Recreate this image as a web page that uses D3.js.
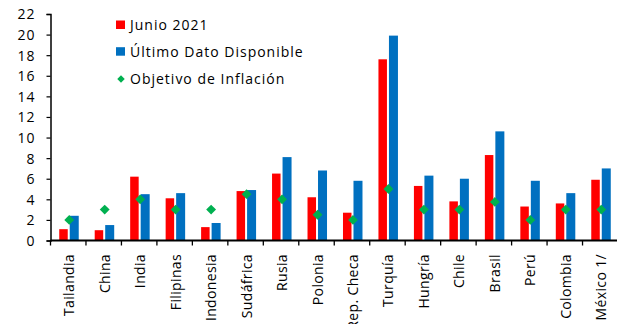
<!DOCTYPE html>
<html>
<head>
<meta charset="utf-8">
<script src="https://cdn.jsdelivr.net/npm/d3@7"></script>
<style>
  html, body { margin: 0; padding: 0; background: #fff; }
  svg { display: block; }
  text { font-family: "Open Sans", "Liberation Sans", sans-serif; fill: #000; }
</style>
</head>
<body>
<svg id="chart" width="617" height="324"></svg>
<script>
// Inflación por país: junio 2021, último dato disponible y objetivo del banco central
const paises = ["Tailandia", "China", "India", "Filipinas", "Indonesia", "Sudáfrica", "Rusia",
  "Polonia", "Rep. Checa", "Turquía", "Hungría", "Chile", "Brasil", "Perú", "Colombia", "México 1/"];
const junio2021 = [1.1, 1.0, 6.2, 4.1, 1.3, 4.8, 6.5, 4.2, 2.7, 17.6, 5.3, 3.8, 8.3, 3.3, 3.6, 5.9];
const ultimoDato = [2.4, 1.5, 4.5, 4.6, 1.7, 4.9, 8.1, 6.8, 5.8, 19.9, 6.3, 6.0, 10.6, 5.8, 4.6, 7.0];
const objetivo = [2.0, 3.0, 4.0, 3.0, 3.0, 4.5, 4.0, 2.5, 2.0, 5.0, 3.0, 3.0, 3.75, 2.0, 3.0, 3.0];
const yTicks = [0, 2, 4, 6, 8, 10, 12, 14, 16, 18, 20, 22];
const leyenda = ["Junio 2021", "Último Dato Disponible", "Objetivo de Inflación"];

const colores = { rojo: "#FF0000", azul: "#0070C0", verde: "#00B050" };

const svg = d3.select("#chart");
const margen = { izq: 50.5, der: 618, sup: 14, inf: 240.5 };

const x = d3.scaleBand().domain(paises).range([margen.izq, margen.der]).padding(0);
const y = d3.scaleLinear().domain([0, 22]).range([margen.inf, margen.sup]);

const barW = 8.5;

// Barras junio 2021
svg.append("g").selectAll("rect").data(paises).join("rect")
  .attr("x", d => x(d) + x.bandwidth() / 2 - 9)
  .attr("y", (d, i) => y(junio2021[i]))
  .attr("width", barW)
  .attr("height", (d, i) => y(0) - y(junio2021[i]))
  .attr("fill", colores.rojo);

// Barras último dato disponible
svg.append("g").selectAll("rect").data(paises).join("rect")
  .attr("x", d => x(d) + x.bandwidth() / 2 + 1.5)
  .attr("y", (d, i) => y(ultimoDato[i]))
  .attr("width", barW + 0.5)
  .attr("height", (d, i) => y(0) - y(ultimoDato[i]))
  .attr("fill", colores.azul);

// Objetivos de inflación (rombos)
const rombo = d3.symbol().type(d3.symbolDiamond2).size(62);
svg.append("g").selectAll("path").data(paises).join("path")
  .attr("d", rombo)
  .attr("transform", (d, i) => `translate(${x(d) + x.bandwidth() / 2 + 1},${y(objetivo[i])})`)
  .attr("fill", colores.verde);

// Eje Y
const yAxis = svg.append("g")
  .attr("transform", `translate(${margen.izq},0)`)
  .call(d3.axisLeft(y).tickValues(yTicks).tickSize(4).tickPadding(11).tickFormat(d3.format("d")));
yAxis.select(".domain").attr("stroke", "#000").attr("stroke-width", 1.5);
yAxis.selectAll(".tick line").attr("stroke", "#000").attr("stroke-width", 1.2);
yAxis.selectAll("text")
  .style("font-size", "14px")
  .style("letter-spacing", "1px")
  .attr("dy", "0.35em");

// Eje X: línea base, marcas entre países y etiquetas verticales
const xAxis = svg.append("g").attr("transform", `translate(0,${margen.inf})`);
xAxis.append("line")
  .attr("x1", margen.izq).attr("x2", margen.der)
  .attr("stroke", "#000").attr("stroke-width", 2);
const bordes = paises.map(d => x(d)).concat([x.range()[1]]);
xAxis.selectAll("line.borde").data(bordes).join("line")
  .attr("class", "borde")
  .attr("x1", d => d).attr("x2", d => d)
  .attr("y1", 0).attr("y2", 5)
  .attr("stroke", "#000").attr("stroke-width", 1.3);
xAxis.selectAll("text").data(paises).join("text")
  .attr("transform", d => `translate(${x(d) + x.bandwidth() / 2 + 6},13.5) rotate(-90)`)
  .attr("text-anchor", "end")
  .style("font-size", "14px")
  .style("letter-spacing", "0.35px")
  .text(d => d);

// Leyenda
const ley = svg.append("g");
const filas = [25, 51.7, 79];
ley.append("rect").attr("x", 116).attr("y", filas[0] - 4.5).attr("width", 9).attr("height", 8.5).attr("fill", colores.rojo);
ley.append("rect").attr("x", 116).attr("y", filas[1] - 4.5).attr("width", 9).attr("height", 8.5).attr("fill", colores.azul);
ley.append("path").attr("d", d3.symbol().type(d3.symbolDiamond2).size(36))
  .attr("transform", `translate(121,${filas[2]})`).attr("fill", colores.verde);
ley.selectAll("text").data(leyenda).join("text")
  .attr("x", 130)
  .attr("y", (d, i) => filas[i])
  .attr("dy", "0.36em")
  .style("font-size", "14px")
  .style("letter-spacing", "1px")
  .text(d => d);
</script>
</body>
</html>
